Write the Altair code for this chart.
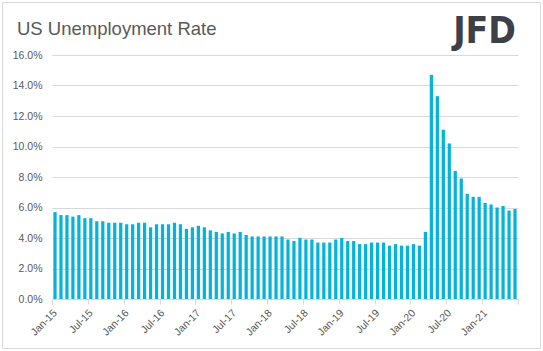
import json
import altair as alt
import pandas as pd

title_text = "US Unemployment Rate"
logo_text = "JFD"
tick_labels = ["Jan-15", "Jul-15", "Jan-16", "Jul-16", "Jan-17", "Jul-17", "Jan-18",
               "Jul-18", "Jan-19", "Jul-19", "Jan-20", "Jul-20", "Jan-21"]
month_names = ["Jan", "Feb", "Mar", "Apr", "May", "Jun",
               "Jul", "Aug", "Sep", "Oct", "Nov", "Dec"]
years = ["15", "16", "17", "18", "19", "20", "21"]
rates = [5.7, 5.5, 5.5, 5.4, 5.5, 5.3, 5.3, 5.1, 5.1, 5.0, 5.0, 5.0,
         4.9, 4.9, 5.0, 5.0, 4.7, 4.9, 4.9, 4.9, 5.0, 4.9, 4.6, 4.7,
         4.8, 4.7, 4.5, 4.4, 4.3, 4.4, 4.3, 4.4, 4.2, 4.1, 4.1, 4.1,
         4.1, 4.1, 4.1, 3.9, 3.8, 4.0, 3.9, 3.9, 3.7, 3.7, 3.7, 3.9,
         4.0, 3.8, 3.8, 3.6, 3.6, 3.7, 3.7, 3.7, 3.5, 3.6, 3.5, 3.5,
         3.6, 3.5, 4.4, 14.7, 13.3, 11.1, 10.2, 8.4, 7.9, 6.9, 6.7, 6.7,
         6.3, 6.2, 6.0, 6.1, 5.8, 5.9]
y_ticks = [0, 0.02, 0.04, 0.06, 0.08, 0.10, 0.12, 0.14, 0.16]

months = [f"{m}-{y}" for y in years for m in month_names][:len(rates)]
n = len(rates)
df = pd.DataFrame({"month": months, "idx": list(range(n)), "rate": rates})

W, H = 466, 244
PL, PT = 52, 55
GRID = "#d9d9d9"
TXT = "#595959"

label_expr = f"datum.value < {n} ? {json.dumps(tick_labels)}[round(datum.value / 6)] : ''"

bars = alt.Chart(df).transform_calculate(
    x0="datum.idx + 0.23", x1="datum.idx + 0.77", r="datum.rate / 100"
).mark_bar(color="#00B4DC").encode(
    x=alt.X("x0:Q",
            scale=alt.Scale(domain=[0, n], nice=False, zero=False),
            axis=alt.Axis(values=list(range(0, n + 1, 6)), labelExpr=label_expr,
                          labelAngle=-45, labelAlign="right", labelBaseline="middle",
                          labelOffset=3, labelPadding=7, tickSize=5, tickColor=GRID,
                          domainColor=GRID, grid=False, labelColor=TXT,
                          labelFont="Liberation Sans", labelFontSize=10.5,
                          title=None)),
    x2="x1:Q",
    y=alt.Y("r:Q",
            scale=alt.Scale(domain=[0, 0.16], nice=False),
            axis=alt.Axis(values=y_ticks, format=".1%", grid=True, gridColor=GRID,
                          domain=False, ticks=False, labelPadding=10, labelColor=TXT,
                          labelFont="Liberation Sans", labelFontSize=10.5,
                          title=None)),
    y2=alt.datum(0),
)

deco = pd.DataFrame({"t": [title_text], "logo": [logo_text]})

border = alt.Chart(deco).mark_rect(fillOpacity=0, stroke=GRID, strokeWidth=1).encode(
    x=alt.value(2.5 - PL), x2=alt.value(540.5 - PL),
    y=alt.value(2.5 - PT), y2=alt.value(348.5 - PT))

title = alt.Chart(deco).mark_text(
    align="left", baseline="alphabetic", fontSize=18.5, font="Liberation Sans",
    color=TXT).encode(x=alt.value(17 - PL), y=alt.value(35 - PT), text="t:N")

logo = alt.Chart(deco).mark_text(
    align="right", baseline="alphabetic", fontSize=37, fontWeight="bold",
    font="Liberation Sans Narrow, DejaVu Sans Condensed, Liberation Sans",
    color="#3c4149").encode(x=alt.value(516 - PL), y=alt.value(43 - PT), text="logo:N")

chart = alt.layer(border, bars, title, logo).properties(
    width=W, height=H,
    autosize=alt.AutoSizeParams(type="none"),
    padding={"left": PL, "top": PT, "right": 543 - PL - W, "bottom": 351 - PT - H},
    background="white",
).configure_view(strokeWidth=0)

chart.save("out.html", embed_options={"renderer": "svg", "actions": False})
